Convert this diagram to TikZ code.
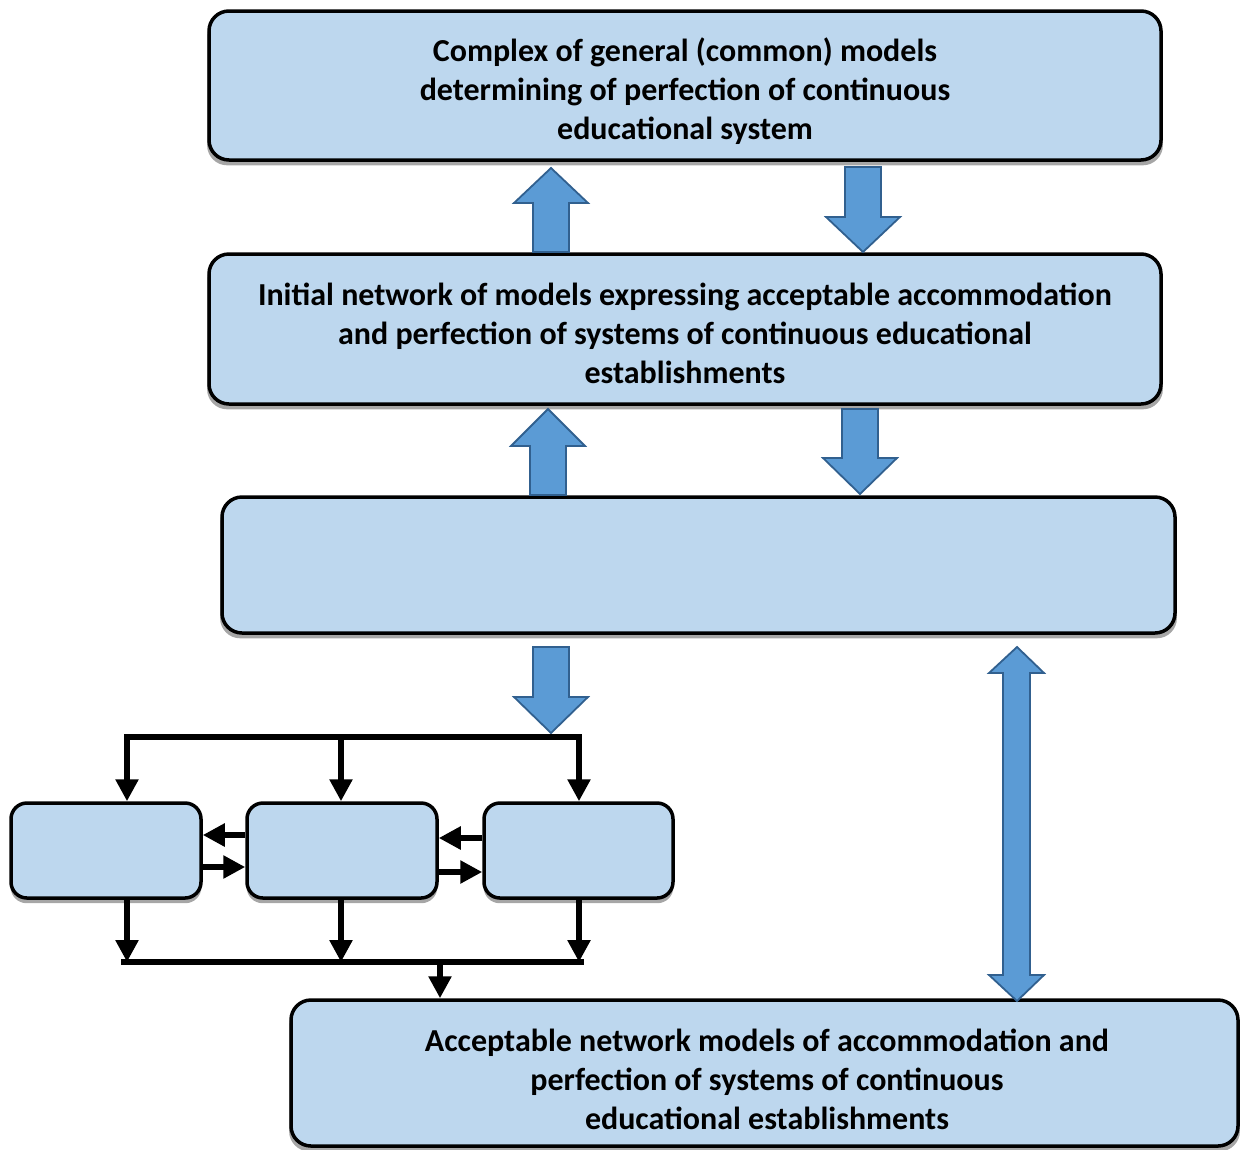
\documentclass[tikz,border=0pt]{standalone}
\usepackage{fontspec}
\setmainfont{Carlito}
\usetikzlibrary{arrows.meta,shadows}
\definecolor{boxfill}{HTML}{BDD7EE}
\definecolor{arrfill}{HTML}{5B9BD5}
\definecolor{arredge}{HTML}{31608F}
\tikzset{
  box/.style={draw=black, line width=3.5pt, fill=boxfill, rounded corners=20pt,
    inner sep=0pt,
    drop shadow={shadow xshift=0pt, shadow yshift=-5pt, shadow scale=1.004, fill=black!35, opacity=1}},
  smallbox/.style={box, rounded corners=16pt},
  boxtext/.style={align=center, inner sep=0pt, font=\bfseries\fontsize{32}{39}\selectfont},
  blockarr/.style={draw=arredge, line width=1.8pt, fill=arrfill, line join=miter},
  conn/.style={draw=black, line width=6.5pt, -{Triangle[length=22pt,width=22pt]}},
  bus/.style={draw=black, line width=6.5pt, line cap=rect}
}
\newcommand\blkup[4]{% x, ytip, yheadbase, ybottom
  \draw[blockarr] (#1,#2) -- (#1+37,#3) -- (#1+18,#3) -- (#1+18,#4) -- (#1-18,#4) -- (#1-18,#3) -- (#1-37,#3) -- cycle;}
\newcommand\blkdown[4]{% x, ytop, yheadbase, ytip
  \draw[blockarr] (#1-18,#2) -- (#1+18,#2) -- (#1+18,#3) -- (#1+37,#3) -- (#1,#4) -- (#1-37,#3) -- (#1-18,#3) -- cycle;}
\begin{document}
\begin{tikzpicture}[x=1pt,y=-1pt]
\useasboundingbox (0,0) rectangle (1241,1149);

% main boxes
\node[box, minimum width=952pt, minimum height=149pt] (b1) at (685,85.5) {};
\node[boxtext] (t1) at (685,91) {Complex of general (common) models\\determining of perfection of continuous\\educational system};
\node[box, minimum width=952pt, minimum height=150pt] (b2) at (685,329) {};
\node[boxtext] (t2) at (685,333) {Initial network of models expressing acceptable accommodation\\and perfection of systems of continuous educational\\establishments};
\node[box, minimum width=953pt, minimum height=136pt] (b3) at (698.5,565) {};
\node[box, minimum width=947pt, minimum height=146pt] (b4) at (764.5,1073) {};
\node[boxtext] (t4) at (767,1079) {Acceptable network models of accommodation and\\perfection of systems of continuous\\educational establishments};

% small boxes
\node[smallbox, minimum width=190pt, minimum height=95pt] (sA) at (106,850.5) {};
\node[smallbox, minimum width=190pt, minimum height=95pt] (sB) at (342,850.5) {};
\node[smallbox, minimum width=189pt, minimum height=95pt] (sC) at (578.5,850.5) {};

% block arrows
\blkup{551}{168}{203}{252}
\blkdown{863}{167}{217}{252}
\blkup{548}{409}{446}{495}
\blkdown{860}{409}{458}{494}
\blkdown{551}{647}{697}{733}
\draw[blockarr] (1017,647) -- (1044,673) -- (1030,673) -- (1030,975) -- (1044,975) -- (1017,1001)
  -- (989,975) -- (1003,975) -- (1003,673) -- (989,673) -- cycle;

% top distribution bus
\coordinate (tl) at (127,737);
\coordinate (tm) at (341,737);
\coordinate (tr) at (579,737);
\draw[bus] (tl) -- (tr);
\draw[conn] (tl) -- (tl |- sA.north);
\draw[conn] (tm) -- (tm |- sB.north);
\draw[conn] (tr) -- (tr |- sC.north);

% horizontal arrows between small boxes
\draw[conn] (sB.west |- 0,835) -- (sA.east |- 0,835);
\draw[conn] (sA.east |- 0,867) -- (sB.west |- 0,867);
\draw[conn] (sC.west |- 0,838) -- (sB.east |- 0,838);
\draw[conn] (sB.east |- 0,872) -- (sC.west |- 0,872);

% bottom collection bus
\coordinate (bl) at (127,962);
\coordinate (bm) at (341,962);
\coordinate (br) at (579,962);
\coordinate (bo) at (440,962);
\draw[conn] (bl |- sA.south) -- (bl);
\draw[conn] (bm |- sB.south) -- (bm);
\draw[conn] (br |- sC.south) -- (br);
\draw[bus] (124,962) -- (581,962);
\draw[conn] (bo) -- (bo |- b4.north);
\end{tikzpicture}
\end{document}
